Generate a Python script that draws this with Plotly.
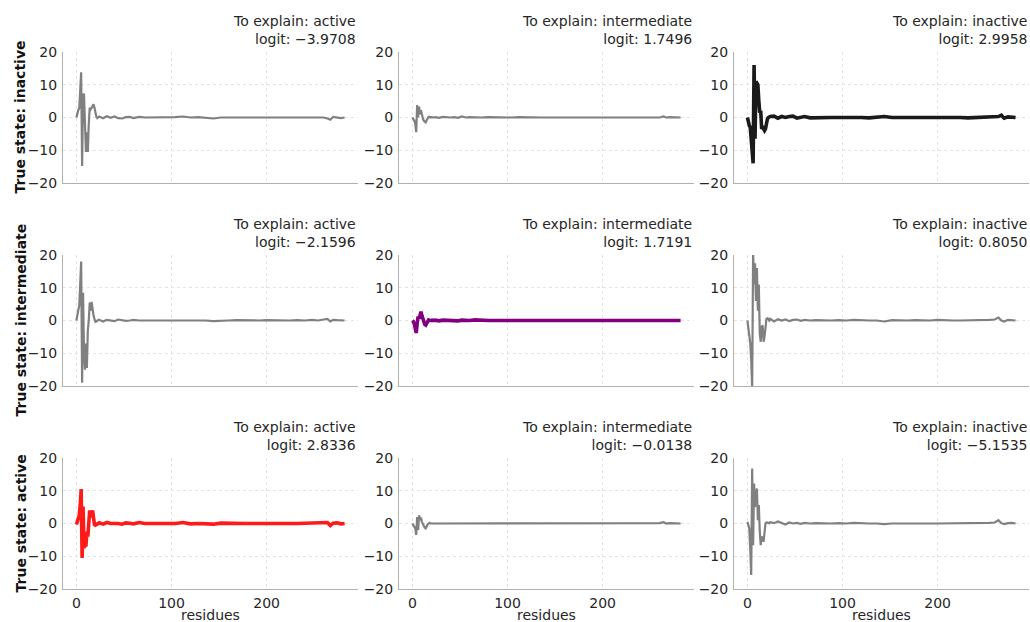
import plotly.graph_objects as go

# ---------------- data ----------------
explain_states = ["active", "intermediate", "inactive"]
true_states = ["inactive", "intermediate", "active"]

logits = [
    ["\u22123.9708", "1.7496", "2.9958"],
    ["\u22122.1596", "1.7191", "0.8050"],
    ["2.8336", "\u22120.0138", "\u22125.1535"],
]

head_x = [0, 1, 2, 3, 4, 5, 6, 7, 8, 9, 10, 11, 12, 13, 14, 15, 16, 17, 18, 19, 20, 21, 22, 23]
tail_x = [24, 28, 32, 36, 40, 44, 48, 52, 56, 60,
          66, 72, 80, 88, 96, 104, 112, 120, 128, 136,
          144, 152, 160, 168, 176, 184, 192, 200, 208, 216,
          224, 232, 240, 248, 254, 260, 264, 267, 270, 274,
          278, 282]

# true inactive row
r1_active_head = [0, 1.5, 2.3, 2.8, 7.5, 13.8, -14.8, 7.2, 7.0, -5, -10.5, -4.5, -10.5, -2, 3, 2.5, 3, 3.5, 4, 3, 1.5, 0.2, -0.2, 0]
r1_active_tail = [0.3, -0.2, 0.4, -0.1, 0.3, -0.2, -0.3, 0.1, 0.2, -0.2,
                  0.2, 0.0, 0.0, 0.0, 0.0, 0.1, 0.3, 0.0, 0.1, 0.0,
                  -0.3, 0.0, 0.1, 0.0, 0.0, 0.1, 0.0, 0.0, 0.0, 0.1,
                  0.0, 0.0, 0.0, 0.2, 0.1, 0.0, -0.3, -0.7, 0.2, 0.1,
                  -0.2, 0.0]
r1_inter_head = [0, -0.5, -1, -2, -4.5, 3.8, 0, 3.3, 1, 2.2, 0.5, -0.3, -1, -1.3, -1.5, -0.8, -0.2, 0.2, 0.2, 0, 0.1, 0, 0, 0]
r1_inter_tail = [0.1, -0.1, 0.2, 0.0, 0.0, 0.1, -0.1, 0.3, 0.0, 0.1,
                 0.0, 0.0, 0.1, 0.0, 0.0, 0.0, 0.1, 0.0, 0.0, 0.0,
                 0.0, 0.1, 0.0, 0.0, 0.0, 0.1, 0.0, 0.0, 0.1, 0.0,
                 0.0, 0.0, 0.0, 0.1, 0.0, 0.0, 0.3, 0.0, 0.1, 0.0,
                 0.0, 0.0]
r1_inact_head = [0, -1.5, -2.5, -3, -7.5, -10, -14, 16, -6.5, 11, 10.5, 10, 5, 1.5, 2, -3.5, -3, -3.5, -4, -3.5, -1.5, -0.5, 0, 0.3]
r1_inact_tail = [0.3, 0.4, -0.2, 0.3, 0.0, 0.3, 0.4, -0.2, 0.1, 0.3,
                 -0.1, 0.0, 0.0, 0.0, 0.0, 0.0, 0.2, 0.0, -0.1, 0.0,
                 0.3, 0.0, 0.1, 0.0, 0.0, 0.0, 0.1, 0.0, 0.2, 0.0,
                 0.0, -0.1, 0.0, 0.1, 0.0, 0.1, 0.3, 0.7, -0.2, 0.2,
                 0.1, 0.0]

# true intermediate row
r2_active_head = [0, 2.5, 3.2, 4.5, 11, 18, -19, 8.5, -10, -15, -7, -14.5, -3, 0, 5.5, 3, 5.7, 3.2, 1.5, 0.5, -0.4, -0.3, 0, 0.2]
r2_active_tail = [0.2, -0.3, 0.2, 0.1, -0.2, 0.3, 0.1, -0.1, 0.0, 0.2,
                  0.0, 0.0, 0.1, 0.0, 0.0, 0.2, 0.0, 0.0, 0.1, 0.0,
                  -0.2, 0.0, 0.0, 0.1, 0.0, 0.0, 0.0, 0.1, 0.0, 0.0,
                  0.0, 0.1, 0.0, 0.2, 0.0, 0.3, 0.5, -0.3, 0.2, 0.1,
                  0.0, 0.0]
r2_inter_head = [0, -0.3, -1, -2, -3.8, -1, 1.2, 0.5, 2.2, 2.7, 1.5, 0.5, -0.5, -1.2, -1.4, -0.6, 0, 0.2, 0.1, 0, 0, 0.1, 0, 0]
r2_inter_tail = [0.1, -0.1, 0.1, 0.0, 0.1, 0.0, -0.1, 0.1, 0.0, 0.0,
                 0.2, 0.0, 0.0, 0.0, 0.0, 0.0, 0.1, 0.0, 0.0, 0.0,
                 0.0, 0.0, 0.1, 0.0, 0.0, 0.0, 0.0, 0.0, 0.1, 0.0,
                 0.0, 0.0, 0.1, 0.0, 0.0, 0.1, 0.2, 0.0, 0.1, 0.0,
                 0.0, 0.0]
r2_inact_head = [0, -2.5, -3.5, -7, -12, -20.5, 20.5, 11, 17.5, 6, 16, 3, 11, -4, -6.5, -2, -1.5, -6.5, -5, -2, 0.5, 0.7, 0.5, 0]
r2_inact_tail = [0.5, -0.3, 0.4, 0.0, 0.3, -0.2, 0.2, 0.3, -0.1, 0.2,
                 0.0, 0.1, 0.0, 0.0, 0.1, 0.0, 0.2, 0.0, 0.0, 0.0,
                 -0.3, 0.1, 0.0, 0.0, 0.1, 0.0, 0.0, 0.2, 0.0, 0.0,
                 0.0, 0.0, 0.1, 0.0, 0.2, 0.3, 0.9, 0.0, -0.3, 0.2,
                 0.0, 0.0]

# true active row
r3_active_head = [-0.3, 0.8, 1.2, 2.5, 5.5, 10.5, -10.5, 5.2, -7.5, -6.5, -7, -2.5, -4, 0.5, 4, 2, 2.5, 4, 1.5, -0.3, -0.5, -0.3, 0, 0.2]
r3_active_tail = [0.2, -0.2, 0.3, 0.0, 0.1, 0.0, -0.2, 0.2, 0.1, -0.1,
                  0.3, 0.0, 0.0, 0.0, 0.0, 0.0, 0.3, -0.1, 0.0, 0.0,
                  -0.2, 0.1, 0.0, 0.1, 0.0, 0.0, 0.1, 0.0, 0.0, 0.1,
                  0.0, 0.0, 0.1, 0.2, 0.1, 0.2, 0.3, -0.6, 0.1, 0.2,
                  -0.1, 0.0]
r3_inter_head = [0, -0.5, -1, -1.5, -3.5, 2, -2, 2.5, 1, 1.8, 0.5, -0.3, -1, -1.3, -1.5, -0.8, -0.3, 0, 0.2, 0, 0, 0.1, 0, 0]
r3_inter_tail = [0.1, 0.0, 0.1, -0.1, 0.1, 0.0, 0.0, 0.1, 0.0, 0.0,
                 0.0, 0.1, 0.0, 0.0, 0.0, 0.0, 0.0, 0.1, 0.0, 0.0,
                 0.0, 0.0, 0.0, 0.1, 0.0, 0.0, 0.0, 0.0, 0.0, 0.1,
                 0.0, 0.0, 0.0, 0.1, 0.0, 0.1, 0.4, 0.0, 0.1, 0.0,
                 0.0, 0.0]
r3_inact_head = [0.5, -1, -1.5, -8, -15.7, 16.8, -6.6, 12.2, 5, 8.7, 10.7, 1, 5.6, -2.5, -6.6, -4, -4.5, -5.6, -1.5, 0, 0.3, 0.2, 0, 0.1]
r3_inact_tail = [0.4, 0.1, 0.6, 0.2, -0.3, 0.3, 0.0, 0.2, -0.1, 0.2,
                 0.0, 0.1, 0.0, 0.0, 0.1, 0.0, 0.2, 0.0, 0.0, 0.0,
                 -0.2, 0.0, 0.1, 0.0, 0.0, 0.1, 0.0, 0.0, 0.0, 0.0,
                 0.1, 0.0, 0.0, 0.1, 0.2, 0.3, 1.0, 0.1, -0.2, 0.1,
                 0.2, 0.0]

series = [
    [(r1_active_head, r1_active_tail), (r1_inter_head, r1_inter_tail), (r1_inact_head, r1_inact_tail)],
    [(r2_active_head, r2_active_tail), (r2_inter_head, r2_inter_tail), (r2_inact_head, r2_inact_tail)],
    [(r3_active_head, r3_active_tail), (r3_inter_head, r3_inter_tail), (r3_inact_head, r3_inact_tail)],
]

x_ticks = [0, 100, 200]
y_ticks = [-20, -10, 0, 10, 20]

# ---------------- styling ----------------
W, H = 1030, 622
col_px = [(63, 358), (399, 694), (734, 1029)]
row_px = [(52, 183), (255, 386), (458, 589)]
highlight = {(0, 2): "#1a1a1a", (1, 1): "#800080", (2, 0): "#ff1a1a"}
FONT = "DejaVu Sans"
TXT = "#262626"
FS = 14

fig = go.Figure()
layout = dict(
    width=W, height=H, margin=dict(l=0, r=0, t=0, b=0),
    paper_bgcolor="white", plot_bgcolor="white",
    showlegend=False, font=dict(family=FONT, size=FS, color=TXT),
)
annotations = []

for r in range(3):
    for c in range(3):
        idx = r * 3 + c + 1
        xa = "x" if idx == 1 else f"x{idx}"
        ya = "y" if idx == 1 else f"y{idx}"
        head, tail = series[r][c]
        color = highlight.get((r, c), "#808080")
        width = 3.6 if (r, c) in highlight else 2.2
        fig.add_trace(go.Scatter(
            x=head_x + tail_x, y=head + tail, mode="lines",
            line=dict(color=color, width=width),
            xaxis=xa, yaxis=ya, hoverinfo="skip",
        ))
        x0, x1 = col_px[c]
        y0, y1 = row_px[r]
        xd = [x0 / W, x1 / W]
        yd = [1 - y1 / H, 1 - y0 / H]
        layout["xaxis" if idx == 1 else f"xaxis{idx}"] = dict(
            domain=xd, anchor=ya, range=[-14.1, 296.1],
            tickvals=x_ticks, showticklabels=(r == 2),
            ticks="outside", ticklen=1, tickcolor="rgba(0,0,0,0)",
            showgrid=True, gridcolor="#e3e3e3", griddash="dot", gridwidth=0.7,
            showline=True, linecolor="#b0b0b0", linewidth=1,
            zeroline=False, tickfont=dict(size=FS, color=TXT),
            automargin=False, fixedrange=True,
        )
        layout["yaxis" if idx == 1 else f"yaxis{idx}"] = dict(
            domain=yd, anchor=xa, range=[-20, 20],
            tickvals=y_ticks, ticktext=["\u221220", "\u221210", "0", "10", "20"],
            ticks="outside", ticklen=2, tickcolor="rgba(0,0,0,0)",
            showgrid=True, gridcolor="#e3e3e3", griddash="dot", gridwidth=0.7,
            showline=True, linecolor="#b0b0b0", linewidth=1,
            zeroline=False, tickfont=dict(size=FS, color=TXT),
            automargin=False, fixedrange=True,
        )
        annotations.append(dict(
            text=f"To explain: {explain_states[c]}<br>logit: {logits[r][c]}",
            xref="paper", yref="paper", x=x1 / W, y=1 - (y0 - 3) / H,
            xanchor="right", yanchor="bottom", align="right", showarrow=False,
            font=dict(family=FONT, size=FS, color=TXT),
        ))
        if r == 2:
            annotations.append(dict(
                text="residues", xref="paper", yref="paper",
                x=(x0 + x1) / 2 / W, y=1 - 615 / H, xanchor="center", yanchor="middle",
                showarrow=False, font=dict(family=FONT, size=FS, color=TXT),
            ))
    annotations.append(dict(
        text=f"<b>True state: {true_states[r]}</b>", xref="paper", yref="paper",
        x=20 / W, y=1 - (row_px[r][0] + row_px[r][1]) / 2 / H,
        xanchor="center", yanchor="middle", textangle=-90, showarrow=False,
        font=dict(family=FONT, size=FS, color="#111111"),
    ))

layout["annotations"] = annotations
fig.update_layout(**layout)
fig.write_html(
    "out.html",
    config={"displayModeBar": False},
    post_script="document.body.style.margin='0';document.body.style.padding='0';document.body.style.overflow='hidden';",
)
